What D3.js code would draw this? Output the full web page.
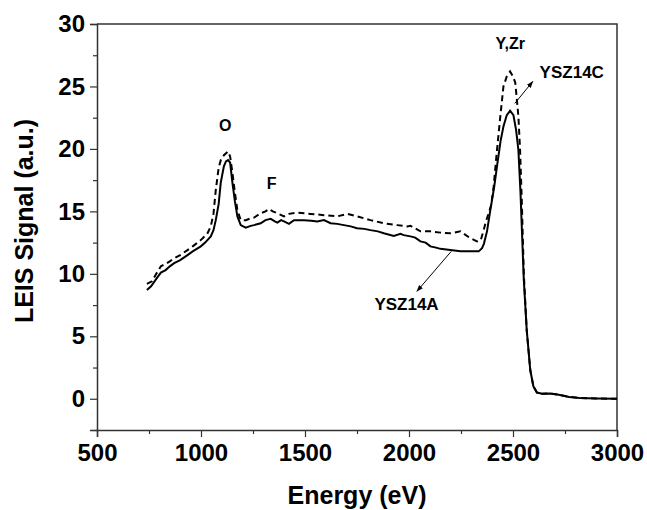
<!DOCTYPE html>
<html>
<head>
<meta charset="utf-8">
<script src="https://cdn.jsdelivr.net/npm/d3@7"></script>
<style>
    body { margin: 0; background: #fff; }
    svg { display: block; font-family: "Liberation Sans", Arial, sans-serif; }
</style>
</head>
<body>
<div id="chart"></div>
<script>
// YSZ14A (solid line)
const energyA = [740, 760, 785, 807, 830, 850, 871, 900, 935, 960, 999, 1020, 1047, 1060, 1071, 1085, 1095, 1110, 1120, 1130,
    1140, 1151, 1163, 1175, 1191, 1215, 1239, 1255, 1287, 1310, 1335, 1355, 1367, 1385, 1399, 1423, 1447, 1495, 1530, 1559,
    1591, 1623, 1655, 1687, 1720, 1750, 1785, 1815, 1850, 1879, 1927, 1959, 1975, 2007, 2030, 2055, 2080, 2103, 2130, 2151,
    2199, 2247, 2295, 2335, 2351, 2360, 2375, 2391, 2410, 2423, 2440, 2454, 2470, 2486, 2502, 2515, 2526, 2536, 2544, 2552,
    2566, 2583, 2598, 2615, 2640, 2680, 2720, 2770, 2820, 2900, 3000];
const signalA = [8.7, 9.0, 9.6, 10.1, 10.3, 10.6, 10.85, 11.1, 11.5, 11.8, 12.2, 12.5, 13.0, 13.5, 14.3, 15.6, 17.3, 18.6, 19.0, 19.1,
    18.9, 17.3, 15.8, 14.6, 13.9, 13.7, 13.84, 13.9, 14.05, 14.3, 14.4, 14.2, 14.1, 14.3, 14.2, 14.0, 14.3, 14.3, 14.25, 14.2,
    14.3, 14.05, 14.0, 13.9, 13.8, 13.65, 13.6, 13.5, 13.4, 13.25, 13.04, 13.2, 13.1, 13.0, 12.9, 12.6, 12.5, 12.2, 12.1, 12.0,
    11.9, 11.8, 11.8, 11.8, 12.05, 12.4, 13.4, 15.1, 17.0, 18.6, 20.6, 21.8, 22.7, 23.06, 22.7, 21.5, 19.9, 16.5, 13.0, 9.5,
    5.5, 2.3, 1.0, 0.5, 0.4, 0.42, 0.32, 0.15, 0.06, 0.02, 0.0];

// YSZ14C (dashed line)
const energyC = [740, 764, 785, 807, 830, 850, 871, 900, 935, 960, 999, 1030, 1047, 1060, 1071, 1085, 1095, 1110, 1130, 1140,
    1151, 1163, 1175, 1191, 1215, 1239, 1255, 1287, 1310, 1327, 1345, 1367, 1399, 1423, 1463, 1527, 1591, 1655, 1703, 1750,
    1815, 1879, 1943, 1991, 2007, 2055, 2103, 2151, 2199, 2247, 2295, 2327, 2345, 2359, 2370, 2383, 2395, 2407, 2423, 2439,
    2454, 2470, 2486, 2500, 2511, 2526, 2534, 2542, 2552, 2566, 2583, 2598, 2615, 2640, 2680, 2720, 2770, 2820, 2900, 3000];
const signalC = [9.2, 9.4, 10.0, 10.6, 10.8, 11.0, 11.25, 11.5, 11.9, 12.2, 12.7, 13.2, 13.8, 14.8, 16.7, 18.5, 19.1, 19.5, 19.8, 19.4,
    18.1, 16.5, 15.1, 14.3, 14.3, 14.45, 14.5, 14.85, 15.0, 15.2, 15.0, 14.85, 14.6, 14.8, 14.9, 14.8, 14.7, 14.6, 14.8, 14.6,
    14.3, 14.05, 13.9, 13.8, 13.85, 13.4, 13.4, 13.3, 13.25, 13.4, 12.85, 12.6, 12.7, 13.5, 14.2, 14.85, 15.5, 17.0, 19.9, 22.6,
    25.0, 25.8, 26.2, 25.8, 25.3, 22.6, 19.9, 16.0, 10.0, 5.5, 2.3, 1.0, 0.5, 0.4, 0.42, 0.32, 0.15, 0.06, 0.02, 0.0];

const xTicks = [500, 1000, 1500, 2000, 2500, 3000];
const xMinor = [750, 1250, 1750, 2250, 2750];
const yTicks = [0, 5, 10, 15, 20, 25, 30];
const yMinor = [-2.5, 2.5, 7.5, 12.5, 17.5, 22.5, 27.5];

// peak labels: [text, energy, signal]
const peakLabels = [['O', 1116, 21.9], ['F', 1340, 17.25], ['Y,Zr', 2487, 28.45]];
// sample labels: [text, arrow from (E,V), arrow to (E,V), label at (E,V), anchor]
const sampleLabels = [
    ['YSZ14A', [2203, 11.8], [2038, 8.6], [1988, 7.6], 'middle'],
    ['YSZ14C', [2509, 23.65], [2595, 25.4], [2628, 26.2], 'start']
];

const width = 647;
const height = 510;
const margin = { top: 24, right: 30, bottom: 80, left: 97 };

const svg = d3
    .select('#chart')
    .append('svg')
    .attr('width', width)
    .attr('height', height);

const xScale = d3.scaleLinear()
    .domain([500, 3000])
    .range([margin.left, width - margin.right]);

const yScale = d3.scaleLinear()
    .domain([-2.5, 30])
    .range([height - margin.bottom, margin.top]);

svg.append('defs')
    .append('marker')
    .attr('id', 'arrow')
    .attr('viewBox', '0 0 10 10')
    .attr('refX', 9)
    .attr('refY', 5)
    .attr('markerWidth', 7)
    .attr('markerHeight', 7)
    .attr('orient', 'auto')
    .append('path')
    .attr('d', 'M0,1.5 L10,5 L0,8.5 Z')
    .attr('fill', '#000');

// frame top/right
svg.append('path')
    .attr('d', `M${xScale(500)},${yScale(30)} H${xScale(3000)} V${yScale(-2.5)}`)
    .attr('fill', 'none')
    .attr('stroke', '#333')
    .attr('stroke-width', 1.5);

// axes
svg.append('g')
    .attr('transform', `translate(0, ${yScale(-2.5)})`)
    .call(d3.axisBottom(xScale).tickValues(xTicks).tickSize(7).tickPadding(7).tickFormat(d3.format('d')));
svg.append('g')
    .attr('transform', `translate(0, ${yScale(-2.5)})`)
    .call(d3.axisBottom(xScale).tickValues(xMinor).tickSize(4).tickFormat(''))
    .select('.domain').remove();

svg.append('g')
    .attr('transform', `translate(${xScale(500)}, 0)`)
    .call(d3.axisLeft(yScale).tickValues(yTicks).tickSize(7).tickPadding(5));
svg.append('g')
    .attr('transform', `translate(${xScale(500)}, 0)`)
    .call(d3.axisLeft(yScale).tickValues(yMinor).tickSize(4).tickFormat(''))
    .select('.domain').remove();

svg.selectAll('.domain').attr('stroke', '#333').attr('stroke-width', 1.5);
svg.selectAll('.tick line').attr('stroke', '#333').attr('stroke-width', 1.2);
svg.selectAll('.tick text')
    .attr('font-size', 24)
    .attr('font-weight', 'bold')
    .attr('font-family', '"Liberation Sans", Arial, sans-serif')
    .attr('fill', '#000');

// axis titles
svg.append('text')
    .attr('x', (xScale(500) + xScale(3000)) / 2)
    .attr('y', 504)
    .attr('text-anchor', 'middle')
    .attr('font-size', 25)
    .attr('font-weight', 'bold')
    .text('Energy (eV)');

svg.append('text')
    .attr('transform', `translate(33, 221) rotate(-90)`)
    .attr('text-anchor', 'middle')
    .attr('font-size', 25)
    .attr('font-weight', 'bold')
    .text('LEIS Signal (a.u.)');

// spectra
const line = d3.line()
    .x(d => xScale(d[0]))
    .y(d => yScale(d[1]))
    .curve(d3.curveLinear);

svg.append('path')
    .datum(d3.zip(energyC, signalC))
    .attr('d', line)
    .attr('fill', 'none')
    .attr('stroke', '#000')
    .attr('stroke-width', 2)
    .attr('stroke-dasharray', '6,4');

svg.append('path')
    .datum(d3.zip(energyA, signalA))
    .attr('d', line)
    .attr('fill', 'none')
    .attr('stroke', '#000')
    .attr('stroke-width', 2);

// annotations
svg.selectAll('.peak-label')
    .data(peakLabels)
    .join('text')
    .attr('class', 'peak-label')
    .attr('x', d => xScale(d[1]))
    .attr('y', d => yScale(d[2]))
    .attr('dy', '0.36em')
    .attr('text-anchor', 'middle')
    .attr('font-size', 16)
    .attr('font-weight', 'bold')
    .text(d => d[0]);

svg.selectAll('.sample-arrow')
    .data(sampleLabels)
    .join('line')
    .attr('class', 'sample-arrow')
    .attr('x1', d => xScale(d[1][0]))
    .attr('y1', d => yScale(d[1][1]))
    .attr('x2', d => xScale(d[2][0]))
    .attr('y2', d => yScale(d[2][1]))
    .attr('stroke', '#000')
    .attr('stroke-width', 1)
    .attr('marker-end', 'url(#arrow)');

svg.selectAll('.sample-label')
    .data(sampleLabels)
    .join('text')
    .attr('class', 'sample-label')
    .attr('x', d => xScale(d[3][0]))
    .attr('y', d => yScale(d[3][1]))
    .attr('dy', '0.36em')
    .attr('text-anchor', d => d[4])
    .attr('font-size', 17)
    .attr('font-weight', 'bold')
    .text(d => d[0]);
</script>
</body>
</html>
